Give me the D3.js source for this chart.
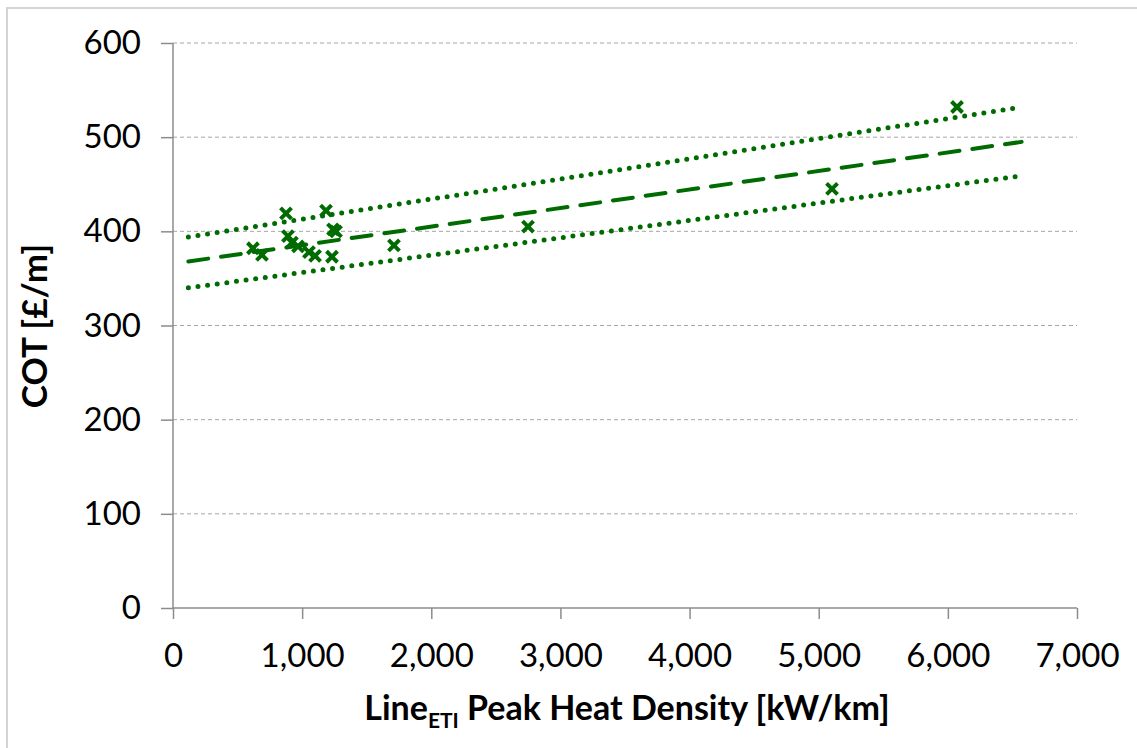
<html lang="en">
<head>
    <meta charset="UTF-8">
    <title>COT vs Peak Heat Density</title>
    <style>
        body { margin: 0; background: #fff; }
        svg text { font-family: Lato, "Open Sans", sans-serif; fill: #000; }
        .tick text { font-size: 33px; }
    </style>
</head>
<body>
    <script src="https://d3js.org/d3.v7.min.js"></script>
    <script>
        const w = 1137;
        const h = 748;

        // data
        const heatDensity = [619, 689, 875, 890, 921, 968, 1053, 1100, 1185, 1239, 1262, 1231, 1711, 2749, 5103, 6071];
        const cot = [382, 375, 419, 395, 388, 384, 378, 374, 422, 402, 400, 373, 385, 405, 445, 532];
        // trend line and band end points
        const trendX = [119, 6571];
        const trendY = [368, 495];
        const upperY = [394, 532];
        const lowerY = [340, 459];
        const xTicks = [0, 1000, 2000, 3000, 4000, 5000, 6000, 7000];
        const yTicks = [0, 100, 200, 300, 400, 500, 600];

        const green = "#006b00";

        const svg = d3.select("body")
            .append("svg")
            .attr("width", w)
            .attr("height", h);

        // chart border
        svg.append("rect")
            .attr("x", 7)
            .attr("y", 8)
            .attr("width", 1300)
            .attr("height", 900)
            .attr("fill", "none")
            .attr("stroke", "#d4d4d4")
            .attr("stroke-width", 2);

        const xScale = d3.scaleLinear().domain([0, 7000]).range([173, 1077]);
        const yScale = d3.scaleLinear().domain([0, 600]).range([608, 43]);

        //gridlines
        svg.append("g")
            .selectAll("line")
            .data(yTicks.filter(d => d > 0))
            .enter()
            .append("line")
            .attr("x1", xScale(0))
            .attr("x2", xScale(7000))
            .attr("y1", d => yScale(d))
            .attr("y2", d => yScale(d))
            .attr("stroke", "#a6a6a6")
            .attr("stroke-width", 1)
            .attr("stroke-dasharray", "4 3");

        //axes
        const xAxis = d3.axisBottom(xScale)
            .tickValues(xTicks)
            .tickFormat(d3.format(","))
            .tickSize(11)
            .tickSizeOuter(0)
            .tickPadding(18);
        const gx = svg.append("g")
            .attr("transform", "translate(0," + yScale(0) + ")")
            .call(xAxis);

        const yAxis = d3.axisLeft(yScale)
            .tickValues(yTicks)
            .tickSize(12)
            .tickSizeOuter(0)
            .tickPadding(20);
        const gy = svg.append("g")
            .attr("transform", "translate(" + xScale(0) + ",0)")
            .call(yAxis);

        [gx, gy].forEach(g => {
            g.selectAll(".domain, .tick line").attr("stroke", "#8c8c8c").attr("stroke-width", 1.5);
            g.selectAll("text").attr("fill", "#000");
        });
        gx.selectAll(".domain").attr("d", "M" + xScale(0) + ",0H" + xScale(7000));
        gy.select(".domain").attr("d", "M0," + yScale(0) + "V" + yScale(600));
        gx.selectAll(".tick text").attr("dy", "0.9em");

        //trend lines
        const line = d3.line()
            .x(d => xScale(d[0]))
            .y(d => yScale(d[1]));

        const bands = [
            { ys: upperY, dash: "0 9.7", width: 5 },
            { ys: lowerY, dash: "0 9.7", width: 5 },
            { ys: trendY, dash: "20 13", width: 4 }
        ];
        bands.forEach(b => {
            svg.append("path")
                .datum(trendX.map((x, i) => [x, b.ys[i]]))
                .attr("d", line)
                .attr("fill", "none")
                .attr("stroke", green)
                .attr("stroke-width", b.width)
                .attr("stroke-linecap", "round")
                .attr("stroke-dasharray", b.dash);
        });

        //points
        const s = 5.5;
        svg.append("g")
            .selectAll("path")
            .data(heatDensity.map((x, i) => [x, cot[i]]))
            .enter()
            .append("path")
            .attr("d", d => {
                const cx = xScale(d[0]), cy = yScale(d[1]);
                return "M" + (cx - s) + "," + (cy - s) + "L" + (cx + s) + "," + (cy + s) +
                    "M" + (cx - s) + "," + (cy + s) + "L" + (cx + s) + "," + (cy - s);
            })
            .attr("stroke", green)
            .attr("stroke-width", 4)
            .attr("fill", "none");

        //axis titles
        svg.append("text")
            .attr("text-anchor", "middle")
            .attr("transform", "translate(47,326) rotate(-90)")
            .style("font-size", "35px")
            .style("font-weight", "bold")
            .text("COT [£/m]");

        const xt = svg.append("text")
            .attr("text-anchor", "middle")
            .attr("x", 627)
            .attr("y", 720)
            .style("font-size", "34px")
            .style("font-weight", "bold");
        xt.append("tspan").text("Line");
        xt.append("tspan").attr("dy", 8).style("font-size", "21px").text("ETI");
        xt.append("tspan").attr("dy", -8).text(" Peak Heat Density [kW/km]");
    </script>
</body>
</html>
